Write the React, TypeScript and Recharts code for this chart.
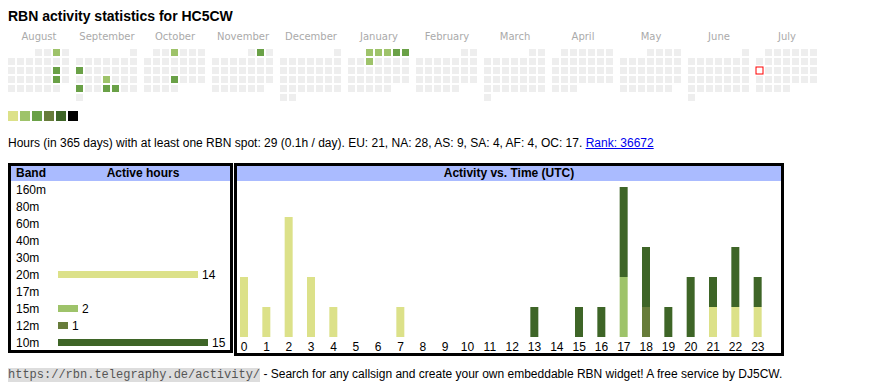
import React from "react";
import {
  Bar,
  BarChart,
  Cell,
  LabelList,
  Scatter,
  ScatterChart,
  XAxis,
  YAxis,
} from "recharts";

// calendar: Aug 2024 .. Jul 2025, weeks start on Monday
const MONTHS = [
  "August", "September", "October", "November", "December", "January",
  "February", "March", "April", "May", "June", "July",
];
const FIRST_YEAR = 2024;
const FIRST_MONTH = 7; // 0-based, August

const LEVEL_COLORS = ["#dce189", "#9ec36a", "#6aa147", "#677c3a", "#3e6527", "#000000"];

const ACTIVE_DAYS: [string, number][] = [
  ["2024-08-03", 2], ["2024-08-17", 3], ["2024-08-24", 3],
  ["2024-09-09", 3], ["2024-09-19", 2], ["2024-09-23", 3], ["2024-09-26", 3], ["2024-09-27", 3],
  ["2024-10-03", 2], ["2024-10-24", 3],
  ["2024-11-02", 3],
  ["2025-01-01", 2], ["2025-01-02", 2], ["2025-01-03", 2], ["2025-01-04", 3], ["2025-01-05", 3],
  ["2025-01-08", 2],
];
const TODAY = "2025-07-14";

// band table
const BANDS = ["160m", "80m", "60m", "40m", "30m", "20m", "17m", "15m", "12m", "10m"];
const BAND_HOURS = [0, 0, 0, 0, 0, 14, 0, 2, 1, 15];
const BAND_COLORS: Record<string, string> = {
  "20m": LEVEL_COLORS[0],
  "15m": LEVEL_COLORS[1],
  "12m": LEVEL_COLORS[3],
  "10m": LEVEL_COLORS[4],
};

// activity vs. time (UTC), stacked per band
const HOURS = ["0", "1", "2", "3", "4", "5", "6", "7", "8", "9", "10", "11",
  "12", "13", "14", "15", "16", "17", "18", "19", "20", "21", "22", "23"];
const UTC_20M = [2, 1, 4, 2, 1, 0, 0, 1, 0, 0, 0, 0, 0, 0, 0, 0, 0, 0, 0, 0, 0, 1, 1, 1];
const UTC_15M = [0, 0, 0, 0, 0, 0, 0, 0, 0, 0, 0, 0, 0, 0, 0, 0, 0, 2, 0, 0, 0, 0, 0, 0];
const UTC_12M = [0, 0, 0, 0, 0, 0, 0, 0, 0, 0, 0, 0, 0, 0, 0, 0, 0, 0, 1, 0, 0, 0, 0, 0];
const UTC_10M = [0, 0, 0, 0, 0, 0, 0, 0, 0, 0, 0, 0, 0, 1, 0, 1, 1, 3, 2, 1, 2, 1, 2, 1];

const FONT = "'Liberation Sans', Arial, sans-serif";
const CELL = 7;
const PITCH = 9;
const BLOCK = 68;

const pad = (n: number) => (n < 10 ? "0" + n : "" + n);

function buildCells() {
  const level = new Map(ACTIVE_DAYS);
  const cells: { x: number; y: number; fill: string; today: boolean }[] = [];
  MONTHS.forEach((_, m) => {
    const year = FIRST_YEAR + Math.floor((FIRST_MONTH + m) / 12);
    const month = (FIRST_MONTH + m) % 12;
    const days = new Date(Date.UTC(year, month + 1, 0)).getUTCDate();
    const firstCol = (new Date(Date.UTC(year, month, 1)).getUTCDay() + 6) % 7;
    for (let d = 1; d <= days; d++) {
      const idx = firstCol + d - 1;
      const key = `${year}-${pad(month + 1)}-${pad(d)}`;
      const lv = level.get(key);
      cells.push({
        x: m * BLOCK + (idx % 7) * PITCH + CELL / 2,
        y: Math.floor(idx / 7) * PITCH + CELL / 2,
        fill: lv ? LEVEL_COLORS[lv - 1] : "#eeeeee",
        today: key === TODAY,
      });
    }
  });
  return cells;
}

const cells = buildCells();
const monthTicks = MONTHS.map((_, m) => m * BLOCK + 31);

const bandData = BANDS.map((band, i) => ({ band, hours: BAND_HOURS[i] }));
const utcData = HOURS.map((hour, i) => ({
  hour,
  b20: UTC_20M[i],
  b15: UTC_15M[i],
  b12: UTC_12M[i],
  b10: UTC_10M[i],
}));

function CalendarCell(props: any) {
  const { cx, cy, payload } = props;
  if (payload.today) {
    return (
      <rect x={cx - CELL / 2} y={cy - CELL / 2} width={CELL} height={CELL}
        fill="#ffffff" stroke="#ff0000" strokeWidth={1} />
    );
  }
  return <rect x={cx - CELL / 2} y={cy - CELL / 2} width={CELL} height={CELL} fill={payload.fill} />;
}

function MonthTick(props: any) {
  const { x, y, payload } = props;
  const i = monthTicks.indexOf(payload.value);
  return (
    <text x={x} y={y - 9.5} textAnchor="middle" fill="#aaaaaa"
      fontSize={10} fontFamily="'DejaVu Sans', sans-serif">
      {MONTHS[i]}
    </text>
  );
}

function BandTick(props: any) {
  const { y, payload } = props;
  return (
    <text x={8} y={y + 4.3} fontSize={12} fontFamily={FONT} fill="#000">
      {payload.value}
    </text>
  );
}

function BandValue(props: any) {
  const { x, y, width, height, value } = props;
  if (!value) return null;
  return (
    <text x={x + width + 4} y={y + height / 2 + 4.3} fontSize={12} fontFamily={FONT} fill="#000">
      {value}
    </text>
  );
}

const box = (left: number, top: number, width: number, height: number): React.CSSProperties => ({
  position: "absolute",
  left,
  top,
  width,
  height,
  boxSizing: "border-box",
  border: "3px solid #000",
});

const header: React.CSSProperties = {
  position: "absolute",
  left: 0,
  right: 0,
  top: 0,
  height: 15,
  background: "#aabbff",
  fontWeight: "bold",
  fontSize: 12,
  lineHeight: "15px",
};

export default function App() {
  return (
    <div style={{ position: "relative", width: 854, height: 374, fontFamily: FONT, color: "#000" }}>
      <div style={{ position: "absolute", left: 0, top: 0, fontSize: 14, lineHeight: "16px", fontWeight: "bold" }}>
        RBN activity statistics for HC5CW
      </div>

      <div style={{ position: "absolute", left: 0, top: 18 }}>
        <ScatterChart width={811} height={77} margin={{ top: 0, right: 0, bottom: 0, left: 0 }}>
          <XAxis type="number" dataKey="x" orientation="top" domain={[0, 811]} height={23}
            ticks={monthTicks} tick={<MonthTick />} axisLine={false} tickLine={false}
            tickSize={0} tickMargin={0} allowDataOverflow interval={0} />
          <YAxis type="number" dataKey="y" domain={[0, 54]} reversed hide allowDataOverflow />
          <Scatter data={cells} shape={CalendarCell} isAnimationActive={false} />
        </ScatterChart>
      </div>

      {LEVEL_COLORS.map((c, i) => (
        <div key={c} style={{ position: "absolute", left: i * 12, top: 103, width: 10, height: 10, background: c }} />
      ))}

      <div style={{ position: "absolute", left: 0, top: 128, fontSize: 12, lineHeight: "14px", whiteSpace: "nowrap" }}>
        Hours (in 365 days) with at least one RBN spot: 29 (0.1h / day). EU: 21, NA: 28, AS: 9, SA: 4, AF: 4, OC: 17.{" "}
        <span style={{ color: "#0000ee", textDecoration: "underline" }}>Rank: 36672</span>
      </div>

      <div style={box(0, 155, 225, 190)}>
        <div style={header}>
          <span style={{ position: "absolute", left: 5 }}>Band</span>
          <span style={{ position: "absolute", left: 44, width: 176, textAlign: "center" }}>Active hours</span>
        </div>
      </div>
      <div style={box(226, 155, 550, 193)}>
        <div style={{ ...header, textAlign: "center" }}>Activity vs. Time (UTC)</div>
      </div>

      <div style={{ position: "absolute", left: 0, top: 173 }}>
        <BarChart width={220} height={170} data={bandData} layout="vertical"
          margin={{ top: 0, right: 20, bottom: 0, left: 0 }} barSize={7}>
          <XAxis type="number" domain={[0, 15]} hide />
          <YAxis type="category" dataKey="band" width={50} axisLine={false} tickLine={false}
            tick={<BandTick />} interval={0} />
          <Bar dataKey="hours" isAnimationActive={false}>
            {bandData.map((d) => (
              <Cell key={d.band} fill={BAND_COLORS[d.band] || "#cccccc"} />
            ))}
            <LabelList dataKey="hours" content={<BandValue />} />
          </Bar>
        </BarChart>
      </div>

      <div style={{ position: "absolute", left: 225, top: 173 }}>
        <BarChart width={536} height={172} data={utcData}
          margin={{ top: 6, right: 0, bottom: 0, left: 0 }} barSize={8}>
          <XAxis dataKey="hour" interval={0} axisLine={false} tickLine={false} height={16}
            tickSize={3} tickMargin={2}
            tick={{ fontSize: 12, fontFamily: FONT, fill: "#000" }} />
          <YAxis domain={[0, 5]} hide />
          <Bar dataKey="b20" stackId="a" fill={BAND_COLORS["20m"]} isAnimationActive={false} />
          <Bar dataKey="b15" stackId="a" fill={BAND_COLORS["15m"]} isAnimationActive={false} />
          <Bar dataKey="b12" stackId="a" fill={BAND_COLORS["12m"]} isAnimationActive={false} />
          <Bar dataKey="b10" stackId="a" fill={BAND_COLORS["10m"]} isAnimationActive={false} />
        </BarChart>
      </div>

      <div style={{ position: "absolute", left: 0, top: 359, fontSize: 12, lineHeight: "14px", whiteSpace: "nowrap" }}>
        <span style={{ fontFamily: "'Liberation Mono', monospace", fontSize: 12, background: "#dddddd", color: "#555555" }}>
          https://rbn.telegraphy.de/activity/
        </span>{" "}
        - Search for any callsign and create your own embeddable RBN widget! A free service by DJ5CW.
      </div>
    </div>
  );
}
